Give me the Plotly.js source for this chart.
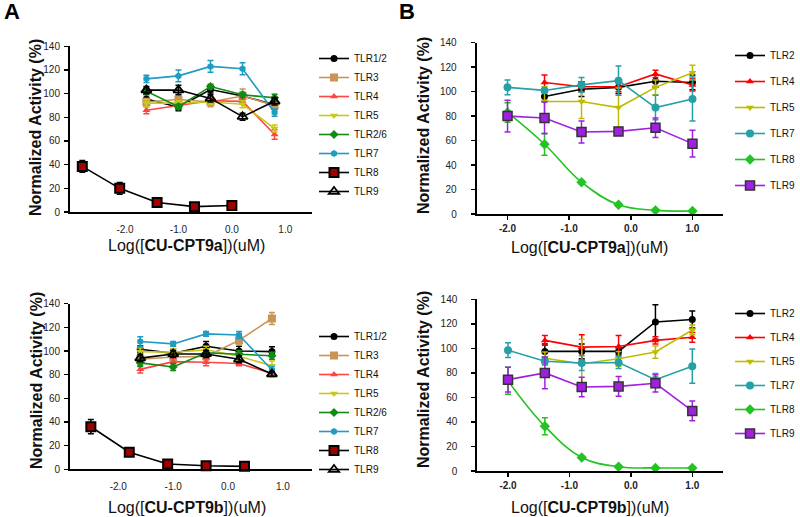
<!DOCTYPE html>
<html>
<head>
<meta charset="utf-8">
<script src="https://cdn.plot.ly/plotly-3.0.1.min.js"></script>
<style>html,body{margin:0;padding:0;background:#fff}#chart{width:800px;height:517px}</style>
</head>
<body>
<div id="chart"></div>
<script>
// ---------- Data ----------
// Panel A (top): CU-CPT9a
const aX = [-1.6, -1.0, -0.4, 0.2, 0.8];
const aX8 = [-2.8, -2.1, -1.4, -0.7, 0.0];
const aTLR12 = [95.5, 88.5, 103.5, 98, 90.5];      const aTLR12e = [4, 3, 3, 3, 4];
const aTLR3 = [93, 95, 93, 98, 90];                const aTLR3e = [3, 5, 4, 6, 3];
const aTLR4 = [86, 90, 94, 93.5, 65.5];            const aTLR4e = [3, 2, 2, 2, 4];
const aTLR5 = [92, 92, 93, 91, 70.5];              const aTLR5e = [3, 2, 2, 3, 3];
const aTLR26 = [102, 89, 106, 99, 96.5];           const aTLR26e = [3, 2, 2, 2, 3];
const aTLR7 = [112.5, 115, 123, 121, 84];          const aTLR7e = [3, 5, 5, 5, 3];
const aTLR8 = [38.5, 20, 8, 4.5, 5.5];             const aTLR8e = [5, 5, 2, 1.5, 1.5];
const aTLR9 = [103, 103, 96, 80.5, 93.5];          const aTLR9e = [3, 4, 3, 3, 3];

// Panel A (bottom): CU-CPT9b
const cX = [-1.6, -1.0, -0.4, 0.2, 0.8];
const cX8 = [-2.5, -1.8, -1.1, -0.4, 0.3];
const cTLR12 = [101.5, 98, 104, 100, 99.5];        const cTLR12e = [3, 4, 4, 4, 4];
const cTLR3 = [93, 95, 95.5, 109, 127.5];          const cTLR3e = [3, 3, 3, 4, 5];
const cTLR4 = [84.5, 91, 90.5, 89.5, 81];          const cTLR4e = [3, 3, 3, 2, 2];
const cTLR5 = [99.5, 99, 101, 95.5, 87.5];         const cTLR5e = [3, 3, 3, 3, 4];
const cTLR26 = [90, 86.5, 98.5, 97.5, 96];         const cTLR26e = [3, 3, 2, 3, 3];
const cTLR7 = [108, 106, 114.5, 113.5, 84];        const cTLR7e = [4, 2, 2, 3, 3];
const cTLR8 = [36, 14.5, 4.5, 3, 2.5];             const cTLR8e = [6, 2, 1.5, 1, 1];
const cTLR9 = [94, 97.5, 97.5, 93, 80.5];          const cTLR9e = [3, 3, 3, 3, 2];

// Panel B (top): CU-CPT9a
const bX6 = [-2.0, -1.4, -0.8, -0.2, 0.4, 1.0];
const bX5 = [-1.4, -0.8, -0.2, 0.4, 1.0];
const bTLR2 = [96, 102, 103.5, 108.5, 107.5];      const bTLR2e = [4, 6, 5, 5, 6];
const bTLR4 = [107.5, 104, 104, 114.5, 105.5];     const bTLR4e = [6, 4, 4, 3, 5];
const bTLR5 = [92, 92, 87, 103.5, 115.5];          const bTLR5e = [12, 14, 16, 6, 6];
const bTLR7 = [103.5, 101, 105.5, 109, 87, 94];    const bTLR7e = [6, 0, 6, 12, 10, 18];
const bTLR8 = [83, 57, 26, 7.5, 3, 2.5];           const bTLR8e = [8, 9, 1, 1, 1, 1];
const bTLR9 = [80, 78.5, 67, 67.5, 70.5, 57.5];    const bTLR9e = [13, 13, 9, 3, 8, 11];

// Panel B (bottom): CU-CPT9b
const dTLR2 = [97.5, 97.5, 97.5, 121.5, 123.5];    const dTLR2e = [6, 6, 3, 14, 7];
const dTLR4 = [106.5, 101, 101.5, 106.5, 109];     const dTLR4e = [4, 10, 9, 3, 4];
const dTLR5 = [92, 87.5, 91.5, 97, 115];           const dTLR5e = [5, 20, 6, 5, 4];
const dTLR7 = [98.5, 89.5, 88, 88.5, 74.5, 85.5];  const dTLR7e = [6, 3, 6, 5, 5, 14];
const dTLR8 = [73.5, 36.5, 11, 3.5, 2.5, 2.5];     const dTLR8e = [11, 7, 1, 1, 1, 1];
const dTLR9 = [74.5, 80, 68.5, 69, 71.5, 49];      const dTLR9e = [10, 13, 8, 8, 7, 8];

const xTickVals = [-2, -1, 0, 1];
const xTickText = ['-2.0', '-1.0', '0.0', '1.0'];
const yTickVals = [0, 20, 40, 60, 80, 100, 120, 140];

// ---------- Styles ----------
const FONT = 'Arial, "Liberation Sans", sans-serif';
const colA = {t12:'#000000', t3:'#c89556', t4:'#ff4444', t5:'#c8c81e', t26:'#138a13', t7:'#1f9cc2', t8:'#a00000', t9:'#000000'};
const colB = {t2:'#000000', t4:'#ff0000', t5:'#bdbd00', t7:'#25a0a6', t8:'#22c322', t9:'#a020e0'};

function tr(name, x, y, e, color, marker, xa, ya, legend, group, extra) {
  const t = {
    type:'scatter', mode:'lines+markers', name:name, x:x, y:y,
    xaxis:xa, yaxis:ya, legend:legend, legendgroup:group,
    line:{color:color, width:1.6},
    marker:Object.assign({color:color, size:7, symbol:'circle', line:{width:0}}, marker),
    error_y:{type:'data', array:e, visible:true, color:color, thickness:1.5, width:3},
    cliponaxis:false
  };
  return Object.assign(t, extra || {});
}

const traces = [
  // A top
  tr('TLR1/2', aX, aTLR12, aTLR12e, colA.t12, {symbol:'circle'}, 'x', 'y', 'legend', 'a1'),
  tr('TLR3', aX, aTLR3, aTLR3e, colA.t3, {symbol:'square', size:8}, 'x', 'y', 'legend', 'a2'),
  tr('TLR4', aX, aTLR4, aTLR4e, colA.t4, {symbol:'triangle-up', size:7}, 'x', 'y', 'legend', 'a3'),
  tr('TLR5', aX, aTLR5, aTLR5e, colA.t5, {symbol:'triangle-down', size:7}, 'x', 'y', 'legend', 'a4'),
  tr('TLR2/6', aX, aTLR26, aTLR26e, colA.t26, {symbol:'diamond', size:7}, 'x', 'y', 'legend', 'a5'),
  tr('TLR7', aX, aTLR7, aTLR7e, colA.t7, {symbol:'hexagon', size:7}, 'x', 'y', 'legend', 'a6'),
  tr('TLR8', aX8, aTLR8, aTLR8e, '#000000', {symbol:'square', size:9, color:colA.t8, line:{color:'#000', width:2}}, 'x', 'y', 'legend', 'a7'),
  tr('TLR9', aX, aTLR9, aTLR9e, colA.t9, {symbol:'triangle-up-open', size:9, line:{color:'#000', width:1.8}}, 'x', 'y', 'legend', 'a8'),
  // B top
  tr('TLR2', bX5, bTLR2, bTLR2e, colB.t2, {symbol:'circle'}, 'x2', 'y2', 'legend2', 'b1'),
  tr('TLR4', bX5, bTLR4, bTLR4e, colB.t4, {symbol:'triangle-up'}, 'x2', 'y2', 'legend2', 'b2'),
  tr('TLR5', bX5, bTLR5, bTLR5e, colB.t5, {symbol:'triangle-down'}, 'x2', 'y2', 'legend2', 'b3'),
  tr('TLR7', bX6, bTLR7, bTLR7e, colB.t7, {symbol:'circle', size:8}, 'x2', 'y2', 'legend2', 'b4'),
  tr('TLR8', bX6, bTLR8, bTLR8e, colB.t8, {symbol:'diamond', size:8}, 'x2', 'y2', 'legend2', 'b5', {line:{color:colB.t8, width:1.6, shape:'spline', smoothing:1.1}}),
  tr('TLR9', bX6, bTLR9, bTLR9e, colB.t9, {symbol:'square', size:9, line:{color:'#333', width:1.5}}, 'x2', 'y2', 'legend2', 'b6'),
  // A bottom
  tr('TLR1/2', cX, cTLR12, cTLR12e, colA.t12, {symbol:'circle'}, 'x3', 'y3', 'legend3', 'c1'),
  tr('TLR3', cX, cTLR3, cTLR3e, colA.t3, {symbol:'square', size:8}, 'x3', 'y3', 'legend3', 'c2'),
  tr('TLR4', cX, cTLR4, cTLR4e, colA.t4, {symbol:'triangle-up', size:7}, 'x3', 'y3', 'legend3', 'c3'),
  tr('TLR5', cX, cTLR5, cTLR5e, colA.t5, {symbol:'triangle-down', size:7}, 'x3', 'y3', 'legend3', 'c4'),
  tr('TLR2/6', cX, cTLR26, cTLR26e, colA.t26, {symbol:'diamond', size:7}, 'x3', 'y3', 'legend3', 'c5'),
  tr('TLR7', cX, cTLR7, cTLR7e, colA.t7, {symbol:'hexagon', size:7}, 'x3', 'y3', 'legend3', 'c6'),
  tr('TLR8', cX8, cTLR8, cTLR8e, '#000000', {symbol:'square', size:9, color:colA.t8, line:{color:'#000', width:2}}, 'x3', 'y3', 'legend3', 'c7'),
  tr('TLR9', cX, cTLR9, cTLR9e, colA.t9, {symbol:'triangle-up-open', size:9, line:{color:'#000', width:1.8}}, 'x3', 'y3', 'legend3', 'c8'),
  // B bottom
  tr('TLR2', bX5, dTLR2, dTLR2e, colB.t2, {symbol:'circle'}, 'x4', 'y4', 'legend4', 'd1'),
  tr('TLR4', bX5, dTLR4, dTLR4e, colB.t4, {symbol:'triangle-up'}, 'x4', 'y4', 'legend4', 'd2'),
  tr('TLR5', bX5, dTLR5, dTLR5e, colB.t5, {symbol:'triangle-down'}, 'x4', 'y4', 'legend4', 'd3'),
  tr('TLR7', bX6, dTLR7, dTLR7e, colB.t7, {symbol:'circle', size:8}, 'x4', 'y4', 'legend4', 'd4'),
  tr('TLR8', bX6, dTLR8, dTLR8e, colB.t8, {symbol:'diamond', size:8}, 'x4', 'y4', 'legend4', 'd5', {line:{color:colB.t8, width:1.6, shape:'spline', smoothing:1.1}}),
  tr('TLR9', bX6, dTLR9, dTLR9e, colB.t9, {symbol:'square', size:9, line:{color:'#333', width:1.5}}, 'x4', 'y4', 'legend4', 'd6')
];

// ---------- Layout helpers ----------
const W = 800, H = 517;
const px = v => v / W;
const py = v => 1 - v / H;

function xAxisA(domain, range, anchor) {
  return {domain:domain, range:range, anchor:anchor, showline:true, linecolor:'#000', linewidth:2,
    showgrid:false, zeroline:false, ticks:'', tickvals:xTickVals, ticktext:xTickText,
    tickfont:{family:FONT, size:10, color:'#222'}, ticklabelstandoff:7, fixedrange:true};
}
function xAxisB(domain, range, anchor) {
  return {domain:domain, range:range, anchor:anchor, showline:true, linecolor:'#000', linewidth:2,
    showgrid:false, zeroline:false, ticks:'outside', ticklen:4, tickwidth:1.5, tickcolor:'#000',
    tickvals:xTickVals, ticktext:xTickText,
    tickfont:{family:FONT, size:10, color:'#222', weight:'bold'}, ticklabelstandoff:0, fixedrange:true};
}
function yAxis(domain, anchor, standoff) {
  return {domain:domain, range:[0, 140], anchor:anchor, showline:true, linecolor:'#000', linewidth:2,
    showgrid:false, zeroline:false, ticks:'outside', ticklen:4, tickwidth:1.5, tickcolor:'#000',
    tickvals:yTickVals, tickfont:{family:FONT, size:10, color:'#222'}, ticklabelstandoff:standoff, fixedrange:true};
}
function legendAt(xp, yp, gap) {
  return {x:px(xp), y:py(yp), xanchor:'left', yanchor:'top', bgcolor:'rgba(0,0,0,0)', borderwidth:0,
    font:{family:FONT, size:10, color:'#111'}, tracegroupgap:gap, itemclick:false, itemdoubleclick:false};
}

const titleFontY = {family:FONT, size:16, color:'#111', weight:'bold'};
const titleFontX = {family:FONT, size:16, color:'#111'};

function ann(text, xp, yp, font, angle) {
  return {text:text, x:px(xp), y:py(yp), xref:'paper', yref:'paper', showarrow:false,
    xanchor:'center', yanchor:'middle', font:font, textangle:angle || 0};
}

const layout = {
  width:W, height:H, margin:{l:0, r:0, t:0, b:0},
  paper_bgcolor:'#fff', plot_bgcolor:'#fff', showlegend:true,
  font:{family:FONT},
  xaxis: xAxisA([px(70), px(312)], [-3.03, 1.5], 'y'),
  yaxis: yAxis([py(212), py(46.3)], 'x', 2),
  xaxis2: xAxisB([px(476.7), px(723.3)], [-2.5, 1.5], 'y2'),
  yaxis2: yAxis([py(214), py(42.7)], 'x2', 12),
  xaxis3: xAxisA([px(70), px(312)], [-2.88, 1.53], 'y3'),
  yaxis3: yAxis([py(469.3), py(303.7)], 'x3', 2),
  xaxis4: xAxisB([px(477.3), px(723)], [-2.5, 1.5], 'y4'),
  yaxis4: yAxis([py(471), py(299.3)], 'x4', 12),
  legend: legendAt(314, 44, 0),
  legend2: legendAt(730, 41, 7),
  legend3: legendAt(314, 322, 0),
  legend4: legendAt(730, 299, 5),
  annotations: [
    ann('<b>A</b>', 12, 11, {family:FONT, size:22, color:'#000'}),
    ann('<b>B</b>', 407, 11, {family:FONT, size:22, color:'#000'}),
    ann('Normalized Activity (%)', 36, 128, titleFontY, -90),
    ann('Normalized Activity (%)', 423, 126, titleFontY, -90),
    ann('Normalized Activity (%)', 36, 381, titleFontY, -90),
    ann('Normalized Activity (%)', 423, 380, titleFontY, -90),
    ann('Log([<b>CU-CPT9a</b>])(uM)', 186, 245, titleFontX),
    ann('Log([<b>CU-CPT9a</b>])(uM)', 589, 247, titleFontX),
    ann('Log([<b>CU-CPT9b</b>])(uM)', 187, 508, titleFontX),
    ann('Log([<b>CU-CPT9b</b>])(uM)', 590, 507, titleFontX)
  ]
};

Plotly.newPlot('chart', traces, layout, {staticPlot:true, displayModeBar:false});
</script>
</body>
</html>
